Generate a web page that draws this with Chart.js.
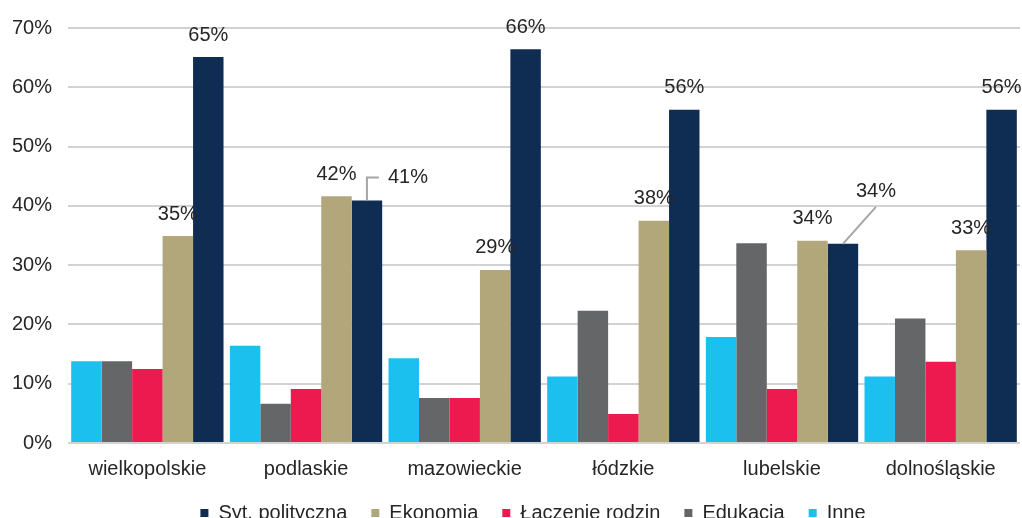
<!DOCTYPE html>
<html>
<head>
<meta charset="utf-8">
<script src="https://cdn.jsdelivr.net/npm/chart.js@4"></script>
<style>
  html, body { margin: 0; padding: 0; background: #fff; overflow: hidden; }
  #wrap { width: 1022px; height: 533px; position: relative; }
</style>
</head>
<body>
<div id="wrap"><canvas id="chart"></canvas></div>
<script>
const regions = ['wielkopolskie', 'podlaskie', 'mazowieckie', 'łódzkie', 'lubelskie', 'dolnośląskie'];

const inne = [13.8, 16.4, 14.3, 11.2, 17.9, 11.2];
const edukacja = [13.8, 6.6, 7.6, 22.3, 33.7, 21.0];
const laczenieRodzin = [12.5, 9.1, 7.6, 4.9, 9.1, 13.7];
const ekonomia = [34.9, 41.6, 29.2, 37.5, 34.1, 32.5];
const sytPolityczna = [65.1, 40.9, 66.4, 56.2, 33.6, 56.2];

const yTicks = [0, 10, 20, 30, 40, 50, 60, 70];

const FONT = "'Liberation Sans', Arial, sans-serif";
const TEXT = '#262626';

// value labels above the Ekonomia and Syt. polityczna bars,
// two of them pulled aside with a leader line
const valueLabels = {
  id: 'valueLabels',
  afterLayout(chart, args, opts) {
    // nudge the legend row a little to the right
    chart.legend.left += opts.legendShift;
    chart.legend.right += opts.legendShift;
  },
  afterDatasetsDraw(chart, args, opts) {
    const ctx = chart.ctx;
    ctx.save();
    ctx.font = '20px ' + FONT;
    ctx.fillStyle = TEXT;
    ctx.textBaseline = 'middle';
    ctx.strokeStyle = '#a6a6a6';
    ctx.lineWidth = 2;
    opts.datasets.forEach(di => {
      const meta = chart.getDatasetMeta(di);
      const data = chart.data.datasets[di].data;
      meta.data.forEach((bar, i) => {
        const text = Math.round(data[i]) + '%';
        const callout = opts.callouts.find(c => c.dataset === di && c.index === i);
        ctx.textAlign = 'center';
        if (!callout) {
          ctx.fillText(text, bar.x, bar.y - 22);
          return;
        }
        ctx.beginPath();
        if (callout.elbow) {
          ctx.moveTo(bar.x, bar.y);
          ctx.lineTo(bar.x, bar.y + callout.dy);
          ctx.lineTo(bar.x + 12, bar.y + callout.dy);
          ctx.textAlign = 'left';
        } else {
          ctx.moveTo(bar.x, bar.y);
          ctx.lineTo(bar.x + callout.dx, bar.y + callout.dy + 15);
        }
        ctx.stroke();
        ctx.fillText(text, bar.x + callout.dx, bar.y + callout.dy);
      });
    });
    ctx.restore();
  }
};

new Chart(document.getElementById('chart'), {
  type: 'bar',
  data: {
    labels: regions,
    datasets: [
      { label: 'Inne', data: inne, backgroundColor: '#1bc0ef' },
      { label: 'Edukacja', data: edukacja, backgroundColor: '#646667' },
      { label: 'Łączenie rodzin', data: laczenieRodzin, backgroundColor: '#ec1a4f' },
      { label: 'Ekonomia', data: ekonomia, backgroundColor: '#b2a77b' },
      { label: 'Syt. polityczna', data: sytPolityczna, backgroundColor: '#0f2d52' }
    ]
  },
  options: {
    responsive: true,
    maintainAspectRatio: false,
    animation: false,
    layout: { padding: { top: 9, right: 2, left: 0, bottom: 0 } },
    datasets: {
      bar: { categoryPercentage: 0.96, barPercentage: 1.0 }
    },
    plugins: {
      tooltip: { enabled: false },
      legend: {
        position: 'bottom',
        reverse: true,
        labels: {
          font: { family: FONT, size: 20 },
          color: TEXT,
          boxWidth: 8,
          boxHeight: 8,
          padding: 24
        }
      },
      valueLabels: {
        datasets: [3, 4],
        legendShift: 23,
        callouts: [
          { dataset: 4, index: 1, dx: 21, dy: -23, elbow: true },
          { dataset: 4, index: 4, dx: 33, dy: -52 }
        ]
      }
    },
    scales: {
      x: {
        grid: { display: false, drawTicks: false },
        border: { display: false },
        ticks: { font: { family: FONT, size: 20 }, color: TEXT, padding: 14 },
        afterFit(axis) { axis.height -= 16; }
      },
      y: {
        min: 0,
        max: 70,
        afterBuildTicks(axis) {
          axis.ticks = yTicks.map(v => ({ value: v }));
        },
        grid: { color: '#d2d2d2', lineWidth: 2, drawTicks: false },
        border: { display: false },
        ticks: {
          font: { family: FONT, size: 20 },
          color: TEXT,
          padding: 16,
          callback: v => v + '%'
        },
        afterFit(axis) { axis.width -= 4; }
      }
    }
  },
  plugins: [valueLabels]
});
</script>
</body>
</html>
